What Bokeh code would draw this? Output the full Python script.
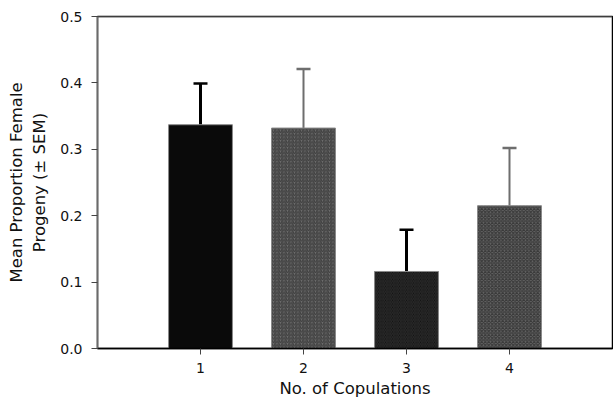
from bokeh.plotting import figure
from bokeh.models import (ColumnDataSource, FixedTicker, Whisker, TeeHead, Span,
                          Range1d, NumeralTickFormatter)
from bokeh.embed import file_html
from bokeh.resources import INLINE

# ---- data ----
copulations = [1, 2, 3, 4]
tick_labels = ["1", "2", "3", "4"]
mean_prop = [0.337, 0.332, 0.116, 0.215]
sem = [0.062, 0.089, 0.063, 0.087]

y_ticks = [0.0, 0.1, 0.2, 0.3, 0.4, 0.5]

# bar styles (one per bar)
fill_colors = ["#0a0a0a", "#6e6e6e", "#0c0c0c", "#666666"]
hatch_patterns = [" ", "/", "\\", "x"]
hatch_colors = ["#0a0a0a", "#404040", "#2a2a2a", "#3a3a3a"]
err_colors = ["black", "#6e6e6e", "black", "#6e6e6e"]
err_widths = [3, 2, 3, 2]

FONT = "DejaVu Sans"

p = figure(width=613, height=402, output_backend="svg", toolbar_location=None,
           x_range=Range1d(0, 5), y_range=Range1d(0, 0.5),
           min_border_left=97, min_border_right=1, min_border_top=16, min_border_bottom=54,
           background_fill_color="white", border_fill_color="white")
p.outline_line_color = "black"
p.outline_line_width = 1.5
p.xgrid.visible = False
p.ygrid.visible = False

for i in range(len(copulations)):
    src = ColumnDataSource(dict(x=[copulations[i]], top=[mean_prop[i]],
                                upper=[mean_prop[i] + sem[i]], lower=[mean_prop[i]]))
    p.add_layout(Whisker(source=src, base="x", upper="upper", lower="lower",
                         line_color=err_colors[i], line_width=err_widths[i],
                         upper_head=TeeHead(size=14, line_color=err_colors[i], line_width=2.5),
                         lower_head=None, level="underlay"))
    p.vbar(x="x", top="top", bottom=0, width=0.62, source=src,
           fill_color=fill_colors[i], line_color="#8a8a8a", line_width=1,
           hatch_pattern=hatch_patterns[i], hatch_color=hatch_colors[i],
           hatch_scale=3.5, hatch_weight=1.2)

# top frame edge is grey in the reference
p.add_layout(Span(location=0.5, dimension="width", line_color="#7a7a7a", line_width=1.5))

# axes
p.xaxis.ticker = FixedTicker(ticks=copulations)
p.xaxis.major_label_overrides = {c: t for c, t in zip(copulations, tick_labels)}
p.xaxis.axis_label = "No. of Copulations"
p.xaxis.axis_line_color = "black"
p.xaxis.axis_line_width = 1.5
p.xaxis.major_tick_line_color = "#444444"
p.xaxis.major_tick_out = 6
p.xaxis.major_tick_in = 0
p.xaxis.minor_tick_line_color = None
p.xaxis.major_label_standoff = 8
p.xaxis.axis_label_standoff = 3

p.yaxis.ticker = FixedTicker(ticks=y_ticks)
p.yaxis.formatter = NumeralTickFormatter(format="0.0")
p.yaxis.axis_label = "Mean Proportion Female\nProgeny (± SEM)"
p.yaxis.axis_line_color = "#6a6a6a"
p.yaxis.axis_line_width = 1.5
p.yaxis.major_tick_line_color = "#444444"
p.yaxis.major_tick_out = 6
p.yaxis.major_tick_in = 0
p.yaxis.minor_tick_line_color = None
p.yaxis.major_label_standoff = 9
p.yaxis.axis_label_standoff = 8

for ax in (p.xaxis[0], p.yaxis[0]):
    ax.major_label_text_font = FONT
    ax.major_label_text_font_size = "14px"
    ax.major_label_text_color = "#111111"
    ax.axis_label_text_font = FONT
    ax.axis_label_text_font_size = "16.5px"
    ax.axis_label_text_font_style = "normal"
    ax.axis_label_text_color = "#111111"

open("out.html", "w").write(file_html(p, INLINE))
